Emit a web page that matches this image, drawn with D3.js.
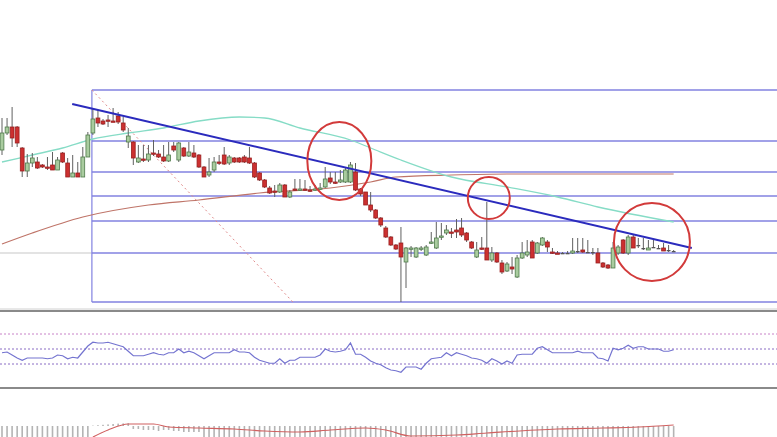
<!DOCTYPE html>
<html><head><meta charset="utf-8">
<script src="https://cdn.jsdelivr.net/npm/d3@7/dist/d3.min.js"></script>
<style>html,body{margin:0;padding:0;background:#fff;overflow:hidden}svg{display:block}</style>
</head><body>
<svg id="c" width="777" height="437"></svg>
<script>
// ---- data ----
const candleOpen = [250,267,273,273,252,229,237,238,235,233, 235,230,247,237,223,227,223,243,267,282,
 279,280,279,284,277,258,258,238,241,240, 247,246,243,239,254,240,252,244,247,245,
 233,225,230,238,245,237,242,242,243,242, 237,227,220,212,209,208,215,203,211,210,
 211,210,210,211,213,222,218,218,218,218, 228,211,208,195,190,182,172,163,155,157,
 138,151,143,151,145,157,152,163,167,168, 170,172,167,158,143,152,152,140,147,137,
 129,133,123,142,145,158,147,155,158,148, 147,147,147,147,149,150,148,148,147,137,
 135,132,147,160,147,163,155,152,150,153, 152,152,150,149];
const candleHigh = [282,282,293,274,253,246,247,243,236,243, 248,243,248,242,245,238,253,268,292,290,
 281,285,292,288,283,272,259,255,255,255, 260,250,255,258,258,258,253,258,255,246,
 234,242,243,245,253,245,243,243,245,253, 238,228,221,214,215,217,216,210,221,221,
 220,214,215,217,233,228,228,230,232,238, 237,212,208,208,191,183,174,164,156,173,
 153,154,153,154,155,168,178,177,175,172, 181,182,168,159,158,163,198,153,148,140,
 138,143,145,158,160,160,158,163,160,152, 149,148,149,162,162,162,160,152,152,138,
 136,158,155,161,165,165,162,162,160,160, 155,157,155,150];
const candleLow = [245,265,253,253,223,223,233,231,232,230, 230,230,237,223,223,223,223,243,265,273,
 275,273,278,276,268,252,235,237,238,238, 244,242,238,238,248,238,243,243,242,232,
 223,223,228,235,235,235,237,237,237,236, 222,219,212,206,203,207,203,202,209,209,
 209,208,209,210,212,216,216,217,217,217, 209,204,195,188,181,173,162,154,150,98,
 112,143,142,149,144,156,151,160,165,162, 162,163,158,151,142,150,140,138,137,126,
 128,126,122,141,143,142,146,154,148,146, 146,146,146,146,147,147,147,145,137,132,
 131,132,145,146,145,152,152,150,150,152, 151,149,148,148];
const candleClose = [267,273,262,257,229,237,242,232,233,232, 230,240,238,223,227,223,243,265,281,277,
 276,279,278,278,270,264,242,242,240,246, 246,243,239,245,250,257,244,248,243,233,
 223,228,238,237,236,243,238,238,238,237, 223,220,213,207,208,215,203,208,210,211,
 210,209,211,212,221,218,217,220,230,235, 210,206,195,190,182,175,163,155,151,143,
 152,152,152,152,153,158,162,164,170,167, 168,165,160,152,150,151,140,147,138,128,
 136,131,142,147,148,142,157,162,153,147, 146,147,147,149,149,148,148,148,137,133,
 132,152,153,147,163,152,155,152,152,153, 152,149,150,149];

const maFastIdx = [0,6,12,18,25,32,39,47,52,59,69,73,79,89,100,110,118,133];
const maFastVal = [238,245,252,261,267,272,279,283,282,272,260,252,240,223,213,203,193,178];
const maSlowIdx = [0,6,16,29,39,51,65,73,78,89,100,133];
const maSlowVal = [156,167,183,195,200,207,212,218,223,225,226,226];

const fibLevels = [310,259,228,204,179,147,98];
const fibStartIdx = 17.8;
const fibDiagEnd = {idx: 57.6, price: 98};
const trendIdx = [13.9, 136.6];
const trendPrice = [296, 152];

const circleIdx = [66.8, 96.4, 128.7];
const circlePrice = [239, 202, 158];
const circleRx = [32, 21, 38];
const circleRy = [39, 21, 39];

const rsiValues = [45,46,42,38,35,38,38,38,38,37, 38,42,41,37,39,38,46,54,59,58,
 58,59,57,55,53,47,41,41,41,43, 45,43,42,45,45,50,45,47,45,41,
 37,41,45,45,45,45,49,46,46,45, 39,35,33,31,31,37,31,35,35,39,
 39,39,39,42,50,47,46,47,49,58, 43,43,39,34,31,29,25,22,21,19,
 26,26,26,23,31,37,38,39,45,41, 45,43,41,38,37,35,31,37,34,30,
 34,31,42,43,43,43,51,53,49,45, 45,45,45,45,47,45,45,45,38,37,
 34,51,49,51,55,51,53,53,50,50, 50,47,47,49];
const rsiLevels = [70,50,30];

const macdHist = [-8,-8,-8,-8,-8,-8,-8,-8,-8,-8, -8,-8,-8,-8,-8,-8,-8,-8,0.2,0.4,
 0.6,0.8,1.0,1.2,1.3,1.4,-1.5,-1.5,-2,-2, -2,-2.5,-2,-2,-2.5,-2.5,-3,-3,-3,-3,
 -6,-6,-7,-7,-7,-7,-7,-7,-7,-7, -7,-7,-7,-7,-7,-7,-7,-7,-7,-7, -7,-7,-7,-7,-7,-7,-7,-7,-7,-7,
 -7,-7,-7,-7,-7,-7,-7,-7,-7,-7, -7,-7,-7,-7,-7,-7,-7,-7,-7,-7, -7,-7,-7,-7,-7,-7,-7,-7,-7,-7,
 -7,-7,-7,-7,-7,-7,-7,-7,-7,-7, -7,-7,-7,-7,-7,-7,-7,-7,-7,-7, -7,-7,-7,-7,-7,-7,-7,-7,-7,-7,
 -7,-7,-7,-7];
const signalIdx = [18,21,25,30,33,39,46,52,59,65,72,76,81,90,96,110,119,126,133];
const signalVal = [-5.5,-2,1,1,-0.5,-1,-1.5,-2.5,-3,-2,-1,-2,-5,-4.5,-3.5,-1.5,-1,-0.5,0.5];

// ---- scales ----
const W = 777, H = 437;
const svg = d3.select('#c');
const x = d3.scaleLinear().domain([0, 133]).range([2, 673.65]);
const y = d3.scaleLinear().domain([91, 400]).range([309, 0]);
const yr = d3.scaleLinear().domain([0, 100]).range([386.5, 311.5]);
const ym = d3.scaleLinear().domain([-10, 10]).range([446, 406]);

const candles = candleOpen.map((o, i) => ({i, o, h: candleHigh[i], l: candleLow[i], c: candleClose[i]}));

// ---- main panel ----
const main = svg.append('g');
main.append('line').attr('x1', 0).attr('x2', x(fibStartIdx)).attr('y1', y(fibLevels[5])).attr('y2', y(fibLevels[5]))
  .attr('stroke', '#c8c8c8').attr('stroke-width', 1.2);
main.selectAll('line.fib').data(fibLevels).enter().append('line')
  .attr('x1', x(fibStartIdx)).attr('x2', W).attr('y1', d => y(d)).attr('y2', d => y(d))
  .attr('stroke', '#8282e0').attr('stroke-width', 1.5);
main.append('line').attr('x1', x(fibStartIdx)).attr('x2', x(fibStartIdx))
  .attr('y1', y(fibLevels[0])).attr('y2', y(fibLevels[6])).attr('stroke', '#8282e0').attr('stroke-width', 1.2);
main.append('line').attr('x1', x(fibStartIdx)).attr('y1', y(fibLevels[0]))
  .attr('x2', x(fibDiagEnd.idx)).attr('y2', y(fibDiagEnd.price))
  .attr('stroke', '#e08a8a').attr('stroke-width', 1).attr('stroke-dasharray', '2,3');

const lineGen = d3.line().curve(d3.curveMonotoneX);
main.append('path').attr('d', lineGen(maSlowIdx.map((d, k) => [x(d), y(maSlowVal[k])])))
  .attr('fill', 'none').attr('stroke', '#bf7468').attr('stroke-width', 1.2);
main.append('path').attr('d', lineGen(maFastIdx.map((d, k) => [x(d), y(maFastVal[k])])))
  .attr('fill', 'none').attr('stroke', '#86dcc6').attr('stroke-width', 1.3);

const bw = 3.8;
const cg = main.append('g');
cg.selectAll('line.wick').data(candles).enter().append('line')
  .attr('x1', d => x(d.i)).attr('x2', d => x(d.i)).attr('y1', d => y(d.h)).attr('y2', d => y(d.l))
  .attr('stroke', '#606060').attr('stroke-width', 1);
cg.selectAll('rect.body').data(candles).enter().append('rect')
  .attr('x', d => x(d.i) - bw / 2)
  .attr('y', d => y(Math.max(d.o, d.c)))
  .attr('width', bw)
  .attr('height', d => Math.max(1.3, Math.abs(y(d.o) - y(d.c))))
  .attr('fill', d => Math.abs(d.o - d.c) < 1 ? '#555' : (d.c > d.o ? '#a9cc9f' : '#cc3030'))
  .attr('stroke', d => Math.abs(d.o - d.c) < 1 ? 'none' : (d.c > d.o ? '#4f7a4a' : '#9a2020'))
  .attr('stroke-width', 0.8);

main.append('line').attr('x1', x(trendIdx[0])).attr('y1', y(trendPrice[0]))
  .attr('x2', x(trendIdx[1])).attr('y2', y(trendPrice[1]))
  .attr('stroke', '#2b2bbd').attr('stroke-width', 2);

circleIdx.forEach((ci, k) => {
  main.append('ellipse').attr('cx', x(ci)).attr('cy', y(circlePrice[k]))
    .attr('rx', circleRx[k]).attr('ry', circleRy[k])
    .attr('fill', 'none').attr('stroke', '#d23a3a').attr('stroke-width', 2);
});

svg.append('line').attr('x1', 0).attr('x2', W).attr('y1', 309).attr('y2', 309).attr('stroke', '#d0d0d0').attr('stroke-width', 1);
svg.append('line').attr('x1', 0).attr('x2', W).attr('y1', 311).attr('y2', 311).attr('stroke', '#8a8a8a').attr('stroke-width', 2);
svg.append('line').attr('x1', 0).attr('x2', W).attr('y1', 388).attr('y2', 388).attr('stroke', '#8a8a8a').attr('stroke-width', 2);

// ---- RSI panel ----
svg.selectAll('line.rsil').data(rsiLevels).enter().append('line')
  .attr('x1', 0).attr('x2', W).attr('y1', d => yr(d)).attr('y2', d => yr(d))
  .attr('stroke', (d, k) => k === 0 ? '#c882c8' : '#8a6cc4').attr('stroke-width', 1).attr('stroke-dasharray', '2,2');
svg.append('path').attr('d', d3.line()(rsiValues.map((v, i) => [x(i), yr(v)])))
  .attr('fill', 'none').attr('stroke', '#7474d0').attr('stroke-width', 1.2);

// ---- MACD panel ----
const mg = svg.append('g');
mg.append('clipPath').attr('id', 'mclip').append('rect').attr('x', 0).attr('y', 389.5).attr('width', W).attr('height', H - 389.5);
const mb = mg.append('g').attr('clip-path', 'url(#mclip)');
mb.selectAll('rect.hist').data(macdHist).enter().append('rect')
  .attr('x', (v, i) => x(i) - 0.8).attr('width', 1.6)
  .attr('y', v => Math.min(ym(0), ym(v))).attr('height', v => Math.abs(ym(v) - ym(0)))
  .attr('fill', '#b4b4b4');
mb.append('path').attr('d', d3.line().curve(d3.curveMonotoneX)(signalIdx.map((d, k) => [x(d), ym(signalVal[k])])))
  .attr('fill', 'none').attr('stroke', '#d06060').attr('stroke-width', 1.2);
</script>
</body></html>
